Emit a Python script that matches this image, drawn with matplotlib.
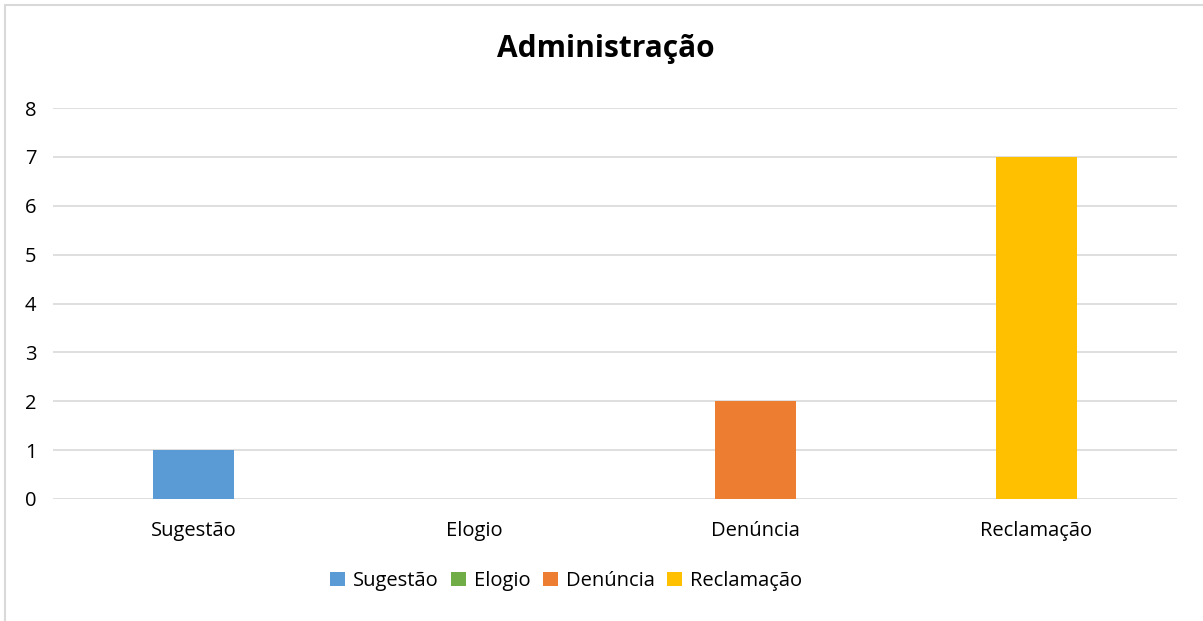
import matplotlib.pyplot as plt
from matplotlib.patches import Patch, Rectangle

categories = ["Sugestão", "Elogio", "Denúncia", "Reclamação"]
values = [1, 0, 2, 7]
colors = ["#5B9BD5", "#70AD47", "#ED7D31", "#FFC000"]

plt.rcParams['font.family'] = ['Open Sans', 'DejaVu Sans']

fig = plt.figure(figsize=(12.03, 6.21), dpi=100)
ax = fig.add_axes([53 / 1203, 1 - 499 / 621, 1124 / 1203, 391 / 621])

x = range(len(categories))
ax.bar(x, values, width=0.29, color=colors, zorder=3)

ax.set_xlim(-0.5, 3.5)
ax.set_ylim(0, 8)
ax.set_yticks(range(0, 9))
ax.set_xticks(list(x))
ax.set_xticklabels(categories)
ax.tick_params(axis='both', length=0, labelsize=14.5, colors='#000000')
ax.tick_params(axis='y', pad=12)
ax.tick_params(axis='x', pad=16)
ax.grid(axis='y', color='#D9D9D9', linewidth=1.2, zorder=0)
for s in ax.spines.values():
    s.set_visible(False)

fig.text(606 / 1203, 1 - 49 / 621, "Administração", ha='center', va='center',
         fontsize=21.5, fontweight='bold')

handles = [Patch(facecolor=c, label=l) for c, l in zip(colors, categories)]
fig.legend(handles=handles, loc='center', bbox_to_anchor=(566 / 1203, 1 - 581 / 621),
           ncol=4, frameon=False, fontsize=14.5, handlelength=0.75, handleheight=0.75,
           handletextpad=0.4, columnspacing=0.6)

# chart border
fig.patches.append(Rectangle((5 / 1203, -0.01), 1.2, 1 - 5 / 621 + 0.01,
                             transform=fig.transFigure, fill=False,
                             edgecolor='#D9D9D9', linewidth=1.5))

fig.savefig("out.png", dpi=100)
